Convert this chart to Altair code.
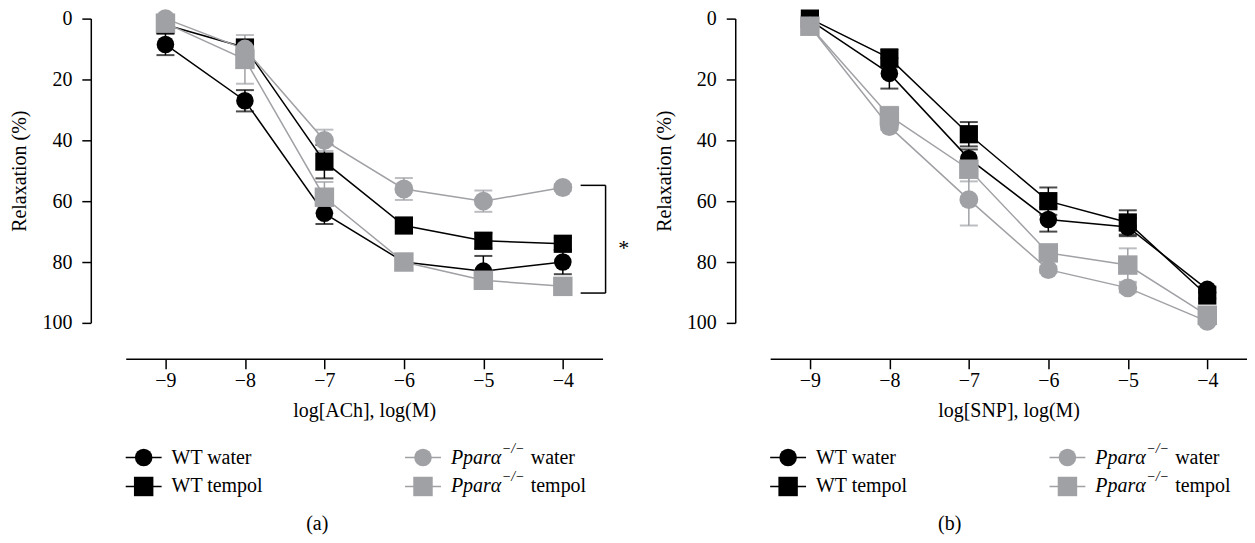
import altair as alt
import pandas as pd

FONT = "Liberation Serif"
BLACK = "#000000"
GREY = "#a0a1a5"

# ---------------- data ----------------
conc = [-9, -8, -7, -6, -5, -4]
series = ["WT water", "WT tempol", "Ppara water", "Ppara tempol"]

# Panel (a): ACh
ach_wt_water = [8.5, 27, 64, 80, 83, 80]
ach_wt_water_sem = [3.5, 3.5, 3.5, 2, 5, 4]
ach_wt_tempol = [2, 9.5, 47, 68, 73, 74]
ach_wt_tempol_sem = [2, 2, 5.5, 2, 2.5, 2]
ach_ko_water = [0, 10, 40, 56, 60, 55.5]
ach_ko_water_sem = [1, 2, 3.5, 3.6, 3.5, 1]
ach_ko_tempol = [1.5, 13.4, 58.7, 80, 86, 88]
ach_ko_tempol_sem = [2, 8, 5, 1, 1, 1]

# Panel (b): SNP
snp_wt_water = [0.5, 18, 46, 66, 68.5, 89]
snp_wt_water_sem = [1, 5, 3, 4, 3, 1]
snp_wt_tempol = [0, 13, 38, 60, 67, 91]
snp_wt_tempol_sem = [1, 3, 4, 4.5, 4, 1]
snp_ko_water = [2.5, 35.5, 59.5, 82.5, 88.5, 99.5]
snp_ko_water_sem = [1, 1, 8.5, 1, 1.5, 1]
snp_ko_tempol = [2.5, 32, 49.5, 77, 81, 97.5]
snp_ko_tempol_sem = [2, 3, 4, 2, 5.5, 1]

y_ticks = [0, 20, 40, 60, 80, 100]

# significance bracket (panel a)
bracket_x = [-3.776, -3.462]
bracket_y = [54.8, 90.2]
star_pos = [-3.235, 75.5]


def long_df(means, sems):
    rows = []
    for s, m, e in zip(series, means, sems):
        for c, mv, ev in zip(conc, m, e):
            rows.append({"series": s, "conc": c, "mean": mv, "sem": ev})
    return pd.DataFrame(rows)


df_a = long_df([ach_wt_water, ach_wt_tempol, ach_ko_water, ach_ko_tempol],
               [ach_wt_water_sem, ach_wt_tempol_sem, ach_ko_water_sem, ach_ko_tempol_sem])
df_b = long_df([snp_wt_water, snp_wt_tempol, snp_ko_water, snp_ko_tempol],
               [snp_wt_water_sem, snp_wt_tempol_sem, snp_ko_water_sem, snp_ko_tempol_sem])

W, H = 478, 305
one = pd.DataFrame({"k": [0]})

colors = [BLACK, BLACK, GREY, GREY]
shapes = ["circle", "square", "circle", "square"]
sizes = [310, 380, 310, 380]


def legend_layers(col_x, row_y, color, shape, size, label, ko):
    layers = [
        alt.Chart(one).mark_rule(color=color, strokeWidth=1.5).encode(
            x=alt.value(col_x), x2=alt.value(col_x + 36), y=alt.value(row_y)),
        alt.Chart(one).mark_point(filled=True, shape=shape, size=size, color=color,
                                  opacity=1, strokeWidth=0).encode(
            x=alt.value(col_x + 18), y=alt.value(row_y)),
    ]
    tx = col_x + 46
    if ko:
        layers += [
            alt.Chart(one).mark_text(text="Pparα", font=FONT, fontSize=20, fontStyle="italic",
                                     align="left", baseline="middle", color="black").encode(
                x=alt.value(tx), y=alt.value(row_y)),
            alt.Chart(one).mark_text(text="−/−", font=FONT, fontSize=14, fontStyle="italic",
                                     align="left", baseline="middle", color="black").encode(
                x=alt.value(tx + 51), y=alt.value(row_y - 9)),
            alt.Chart(one).mark_text(text=label, font=FONT, fontSize=20,
                                     align="left", baseline="middle", color="black").encode(
                x=alt.value(tx + 80), y=alt.value(row_y)),
        ]
    else:
        layers.append(
            alt.Chart(one).mark_text(text=label, font=FONT, fontSize=20,
                                     align="left", baseline="middle", color="black").encode(
                x=alt.value(tx), y=alt.value(row_y)))
    return layers


def panel(df, xtitle, caption, caption_x, with_bracket):
    xs = alt.Scale(domain=[-9.5, -3.5], nice=False, zero=False)
    ys = alt.Scale(domain=[0, 100], reverse=True, nice=False, zero=False)
    xax = alt.Axis(values=conc, format="d", offset=36, tickSize=10, labelPadding=2,
                   titlePadding=10, grid=False)
    yax = alt.Axis(values=y_ticks, offset=35, tickSize=9, labelPadding=10,
                   titlePadding=12, grid=False)
    X = lambda f: alt.X(f, scale=xs, axis=xax, title=xtitle)
    Y = lambda f: alt.Y(f, scale=ys, axis=yax, title="Relaxation (%)")
    color = alt.Color("series:N", scale=alt.Scale(domain=series, range=colors), legend=None)
    shape = alt.Shape("series:N", scale=alt.Scale(domain=series, range=shapes), legend=None)
    size = alt.Size("series:O", scale=alt.Scale(domain=series, range=sizes), legend=None)

    base = alt.Chart(df).transform_calculate(lo="datum.mean - datum.sem",
                                             hi="datum.mean + datum.sem")
    rules = base.mark_rule(strokeWidth=1.5).encode(x=X("conc:Q"), y=Y("lo:Q"), y2="hi:Q",
                                                   color=color)
    cap_lo = base.mark_tick(orient="horizontal", size=18, thickness=2).encode(
        x=X("conc:Q"), y=Y("lo:Q"), color=color)
    cap_hi = base.mark_tick(orient="horizontal", size=18, thickness=2).encode(
        x=X("conc:Q"), y=Y("hi:Q"), color=color)
    lines = base.mark_line(strokeWidth=1.5).encode(x=X("conc:Q"), y=Y("mean:Q"), color=color,
                                                   detail="series:N", order="conc:Q")
    points = base.mark_point(filled=True, opacity=1, strokeWidth=0).encode(
        x=X("conc:Q"), y=Y("mean:Q"), color=color, shape=shape, size=size)

    layers = [rules, cap_lo, cap_hi, lines, points]

    if with_bracket:
        bdf = pd.DataFrame({
            "x1": [bracket_x[0], bracket_x[0], bracket_x[1]],
            "x2": [bracket_x[1], bracket_x[1], bracket_x[1]],
            "y1": [bracket_y[0], bracket_y[1], bracket_y[0]],
            "y2": [bracket_y[0], bracket_y[1], bracket_y[1]],
        })
        layers.append(alt.Chart(bdf).mark_rule(color="black", strokeWidth=1.5).encode(
            x=X("x1:Q"), x2="x2:Q", y=Y("y1:Q"), y2="y2:Q"))
        sdf = pd.DataFrame({"x": [star_pos[0]], "y": [star_pos[1]], "t": ["*"]})
        layers.append(alt.Chart(sdf).mark_text(font=FONT, fontSize=22, color="black",
                                               baseline="middle").encode(
            x=X("x:Q"), y=Y("y:Q"), text="t:N"))

    r1, r2 = 440, 469
    layers += legend_layers(0, r1, BLACK, "circle", 310, "WT water", False)
    layers += legend_layers(0, r2, BLACK, "square", 380, "WT tempol", False)
    layers += legend_layers(280, r1, GREY, "circle", 310, "water", True)
    layers += legend_layers(280, r2, GREY, "square", 380, "tempol", True)
    layers.append(alt.Chart(one).mark_text(text=caption, font=FONT, fontSize=20,
                                           baseline="middle", color="black").encode(
        x=alt.value(caption_x), y=alt.value(507)))

    return alt.layer(*layers).properties(width=W, height=H)


pa = panel(df_a, "log[ACh], log(M)", "(a)", 192, True)
pb = panel(df_b, "log[SNP], log(M)", "(b)", 180, False)

chart = alt.hconcat(pa, pb, spacing=25).properties(
    padding={"left": 2, "top": 0, "right": 0, "bottom": 0}
).configure_axis(
    labelFont=FONT, titleFont=FONT, labelFontSize=20, titleFontSize=20,
    titleFontWeight="normal", labelColor="black", titleColor="black",
    domainColor="black", tickColor="black", domainWidth=1.5, tickWidth=1.5, grid=False
).configure_view(stroke=None)

chart.save("out.html", embed_options={"renderer": "svg", "actions": False})
